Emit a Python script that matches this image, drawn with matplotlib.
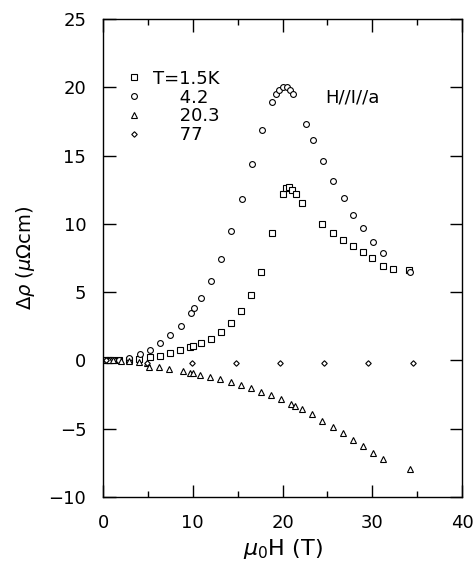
import matplotlib
matplotlib.use("Agg")
import matplotlib.pyplot as plt
from matplotlib.ticker import MultipleLocator
from matplotlib.lines import Line2D

# field mu0H (T) and magnetoresistance delta rho (micro-ohm cm)
h_15 = [0.2, 0.5, 0.8, 1.1, 1.8, 2.9, 4.05, 5.2, 6.35, 7.45, 8.6, 9.7, 10.05, 10.9,
        12.0, 13.15, 14.25, 15.4, 16.5, 17.65, 18.8, 20.0, 20.35, 20.75, 21.1, 21.45,
        22.2, 24.45, 25.6, 26.7, 27.8, 28.95, 30.0, 31.15, 32.3, 34.1]
r_15 = [0.0, 0.0, 0.0, 0.0, 0.02, 0.05, 0.12, 0.24, 0.35, 0.53, 0.75, 0.97, 1.08, 1.26,
        1.6, 2.1, 2.77, 3.6, 4.77, 6.48, 9.3, 12.2, 12.6, 12.7, 12.5, 12.2,
        11.5, 10.0, 9.36, 8.82, 8.38, 7.96, 7.48, 6.94, 6.72, 6.63]

h_42 = [0.2, 0.5, 0.8, 1.1, 1.8, 2.9, 4.1, 5.2, 6.3, 7.5, 8.65, 9.8, 10.15, 10.9,
        12.0, 13.2, 14.3, 15.5, 16.65, 17.75, 18.85, 19.25, 19.6, 20.0, 20.45, 20.85,
        21.15, 22.65, 23.4, 24.55, 25.65, 26.8, 27.9, 29.0, 30.1, 31.2, 34.2]
r_42 = [0.0, 0.0, 0.0, 0.02, 0.05, 0.2, 0.5, 0.77, 1.28, 1.84, 2.55, 3.45, 3.82, 4.55,
        5.82, 7.45, 9.5, 11.85, 14.4, 16.85, 18.95, 19.5, 19.8, 20.0, 20.0, 19.8,
        19.5, 17.35, 16.15, 14.6, 13.15, 11.9, 10.65, 9.7, 8.7, 7.9, 6.45]

h_203 = [0.3, 0.7, 1.1, 2.0, 2.9, 4.0, 4.95, 5.1, 6.2, 7.4, 8.9, 9.7, 10.05, 10.8,
         11.9, 13.05, 14.25, 15.35, 16.45, 17.6, 18.7, 19.85, 21.0, 21.4, 22.15, 23.3,
         24.45, 25.6, 26.7, 27.8, 29.0, 30.1, 31.2, 34.2]
r_203 = [0.0, 0.0, 0.0, -0.01, -0.03, -0.08, -0.2, -0.45, -0.5, -0.62, -0.74, -0.89, -0.94, -1.04,
         -1.18, -1.38, -1.6, -1.77, -1.99, -2.3, -2.53, -2.84, -3.2, -3.33, -3.58, -3.94,
         -4.43, -4.84, -5.33, -5.84, -6.26, -6.75, -7.19, -7.97]

h_77 = [0.3, 4.9, 9.9, 14.8, 19.7, 24.6, 29.55, 34.55]
r_77 = [0.0, -0.2, -0.2, -0.2, -0.2, -0.2, -0.2, -0.2]

labels = ["T=1.5K", "4.2", "20.3", "77"]

plt.rcParams["font.family"] = ["DejaVu Sans"]
plt.rcParams["mathtext.fontset"] = "dejavusans"

fig = plt.figure(figsize=(4.73, 5.70), dpi=100)
ax = fig.add_axes([0.2178, 0.128, 0.759, 0.8386])

mk = dict(linestyle="none", mfc="white", mec="black", mew=0.8)
ax.plot(h_15, r_15, marker="s", ms=4.0, **mk)
ax.plot(h_42, r_42, marker="o", ms=4.2, **mk)
ax.plot(h_203, r_203, marker="^", ms=3.8, **mk)
ax.plot(h_77, r_77, marker="D", ms=2.8, **mk)

ax.set_xlim(0, 40)
ax.set_ylim(-10, 25)
ax.xaxis.set_major_locator(MultipleLocator(10))
ax.xaxis.set_minor_locator(MultipleLocator(5))
ax.yaxis.set_major_locator(MultipleLocator(5))
ax.tick_params(which="both", direction="in", top=True, right=True, width=1.0)
ax.tick_params(which="major", length=9, labelsize=13)
ax.tick_params(which="minor", length=4)
ax.tick_params(axis="x", pad=12)
ax.tick_params(axis="y", pad=12)
for s in ax.spines.values():
    s.set_linewidth(1.0)

ax.set_xlabel(r"$\mu_0$H (T)", fontsize=16, labelpad=4)
ax.set_ylabel(r"$\Delta\rho$ ($\mu\Omega$cm)", fontsize=14, labelpad=8)

# legend drawn with the same marker styles
handles = [Line2D([], [], marker="s", ms=4.0, **mk),
           Line2D([], [], marker="o", ms=4.2, **mk),
           Line2D([], [], marker="^", ms=3.8, **mk),
           Line2D([], [], marker="D", ms=2.8, **mk)]
shown = [labels[0]] + ["\u2007\u2007\u2009" + t for t in labels[1:]]
ax.legend(handles, shown, loc="upper left", bbox_to_anchor=(0.045, 0.913),
          frameon=False, fontsize=13, handlelength=0.6, handletextpad=0.8,
          labelspacing=0.05, borderpad=0.0)

ax.text(0.618, 0.835, "H//I//a", transform=ax.transAxes, fontsize=13,
        ha="left", va="center")

fig.savefig("out.png", dpi=100)
